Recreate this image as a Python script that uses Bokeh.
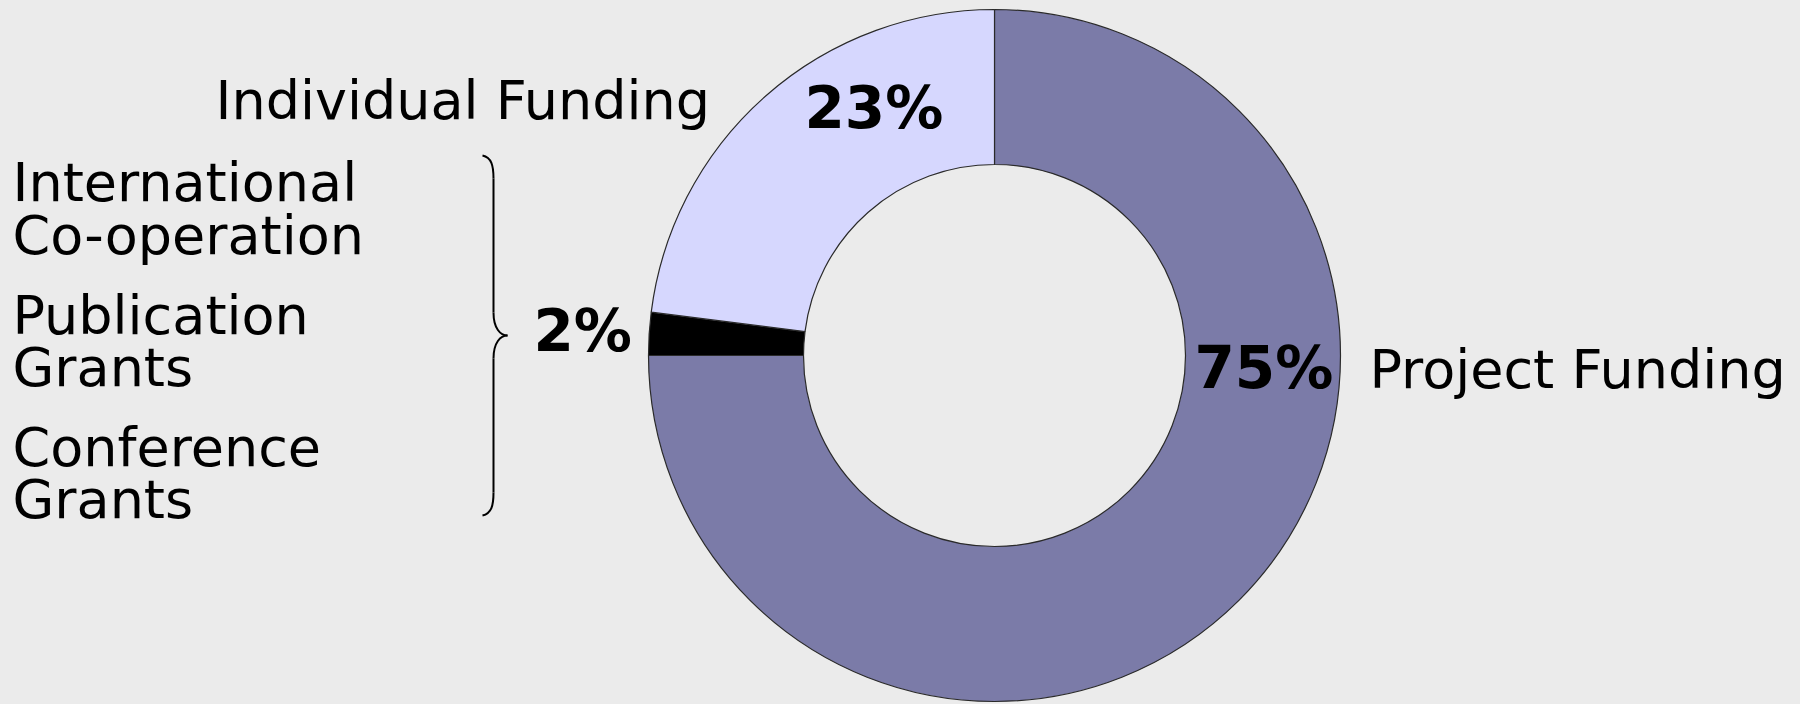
import math
from bokeh.plotting import figure
from bokeh.models import Range1d, ColumnDataSource
from bokeh.core.properties import value
from bokeh.embed import file_html
from bokeh.resources import INLINE

# ---- data ----
categories = ["Project Funding", "Conference / Publication / Int. Co-operation", "Individual Funding"]
shares = [75, 2, 23]
colors = ["#7B7BA8", "#000000", "#D6D7FE"]
group_labels = ["International", "Co-operation", "Publication", "Grants", "Conference", "Grants"]

BG = "#EBEBEB"
W, H = 1800, 704
PAGE_H = 704
DY = 18  # baseline correction

def py(y):  # page y -> data y
    return PAGE_H - y

def ty(y):  # text baseline page y -> data y
    return PAGE_H - (y - DY)

p = figure(width=W, height=H, output_backend="svg", toolbar_location=None,
           x_range=Range1d(0, W), y_range=Range1d(0, H),
           min_border=0)
p.axis.visible = False
p.grid.visible = False
p.outline_line_color = None
p.background_fill_color = BG
p.border_fill_color = BG

# donut, starting at 12 o'clock, clockwise
total = sum(shares)
starts, ends = [], []
cum = 0.0
for v in shares:
    a0 = math.pi / 2 - 2 * math.pi * cum / total
    cum += v
    a1 = math.pi / 2 - 2 * math.pi * cum / total
    starts.append(a1)
    ends.append(a0)
cx, cy = 994, py(355)
src = ColumnDataSource(dict(x=[cx] * 3, y=[cy] * 3, start=starts, end=ends, color=colors))
p.annular_wedge(x="x", y="y", inner_radius=191, outer_radius=346,
                inner_radius_units="screen", outer_radius_units="screen",
                start_angle="start", end_angle="end", fill_color="color",
                line_color="#2a2a2a", line_width=1.2, source=src)

FONT = value("DejaVu Sans")
SIZE = "54px"

# percentage labels
pct_pos = [(1194, 385), (533, 348), (804, 125)]
p.text(x=[pp[0] for pp in pct_pos], y=[ty(pp[1]) for pp in pct_pos],
       text=[f"{v}%" for v in shares], text_font=FONT, text_font_size="58px",
       text_font_style="bold", text_color="black", text_align="left",
       text_baseline="alphabetic")

# category labels
p.text(x=[1369, 215], y=[ty(387), ty(118)], text=[categories[0], categories[2]],
       text_font=FONT, text_font_size=SIZE, text_color="black",
       text_align="left", text_baseline="alphabetic")

grp_base = [200, 253, 333, 385, 465, 517]
p.text(x=[12] * len(group_labels), y=[ty(b) for b in grp_base], text=group_labels,
       text_font=FONT, text_font_size=SIZE, text_color="black",
       text_align="left", text_baseline="alphabetic")

# curly brace
bx0 = [482, 493, 507, 493]
by0 = [155, 312, 335, 492]
bx1 = [493, 507, 493, 482]
by1 = [178, 335, 358, 515]
bcx0 = [491, 493, 500, 493]
bcy0 = [157, 328, 335, 505]
bcx1 = [493, 500, 493, 491]
bcy1 = [165, 335, 342, 513]
p.bezier(x0=bx0, y0=[py(v) for v in by0], x1=bx1, y1=[py(v) for v in by1],
         cx0=bcx0, cy0=[py(v) for v in bcy0], cx1=bcx1, cy1=[py(v) for v in bcy1],
         line_color="black", line_width=2)
p.segment(x0=[493, 493], y0=[py(178), py(358)], x1=[493, 493], y1=[py(312), py(492)],
          line_color="black", line_width=2)

html = file_html(p, INLINE)
html = html.replace("<head>", "<head><style>body{background:#EBEBEB;}</style>", 1)
open("out.html", "w").write(html)
